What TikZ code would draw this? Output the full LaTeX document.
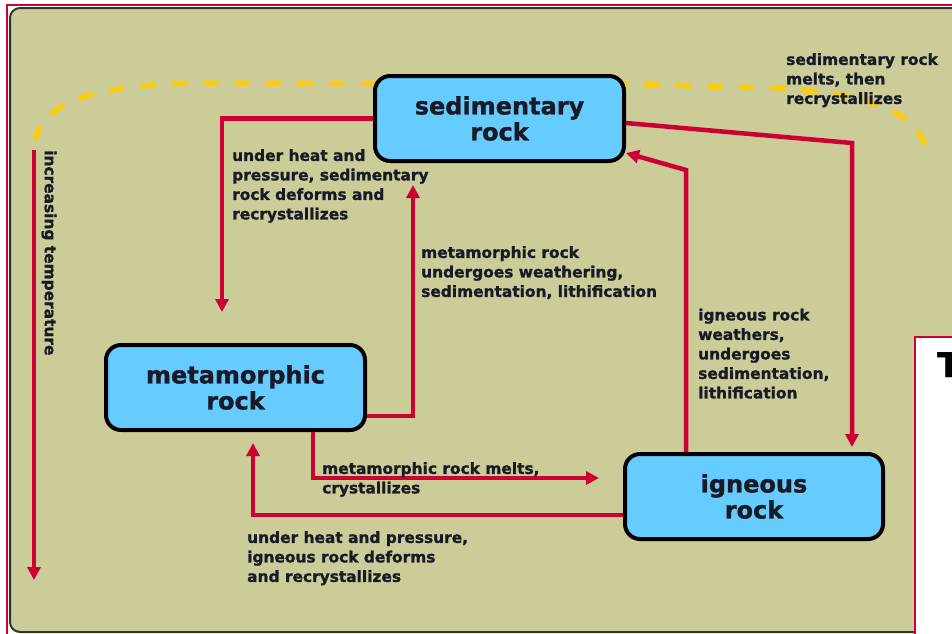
\documentclass[tikz,border=0pt]{standalone}
\usepackage{fontspec}
\setmainfont{DejaVu Sans}[BoldFeatures={FakeBold=1.2}]
\usetikzlibrary{arrows.meta,calc}
\definecolor{khaki}{HTML}{CCCC99}
\definecolor{rockblue}{HTML}{66CCFF}
\definecolor{cred}{HTML}{CC0033}
\definecolor{cyel}{HTML}{FFCC00}
\definecolor{ctext}{HTML}{1A1A26}
\begin{document}
\begin{tikzpicture}[x=1pt,y=-1pt,
  rockbox/.style={draw=black, line width=4pt, fill=rockblue, rounded corners=15pt,
    minimum height=85pt, align=center, font=\fontsize{24}{26}\selectfont\bfseries,
    text=ctext, inner sep=0pt},
  lbl/.style={anchor=north west, align=left, inner sep=0pt,
    font=\fontsize{15.4}{19.5}\selectfont\bfseries, text=ctext},
  flow/.style={draw=cred, line width=4.5pt, -{Triangle[length=13pt,width=13pt]}},
  heatpath/.style={draw=cyel, line width=5pt, dash pattern=on 15pt off 16.5pt},
]
\useasboundingbox (0,0) rectangle (952,633);
\begin{scope}
\clip (0,0) rectangle (952,633);
\fill[white] (0,0) rectangle (952,633);
\draw[cred, line width=2pt] (7,5) rectangle (1000,700);
\draw[fill=khaki, draw=black!80, line width=2pt, rounded corners=10pt] (10,8) rectangle (980,632);
\draw[cred, line width=2pt, fill=white] (915,337) rectangle (1000,700);
\node[anchor=base west, inner sep=0pt, font=\fontsize{34}{34}\selectfont\bfseries, text=black] (tt) at (937,377) {T};

% yellow dashed melting path
\coordinate (y1) at (35,140);
\coordinate (y2) at (927,150);
\draw[heatpath] (y1) .. controls (45,100) and (100,84) .. (200,83) -- (626,84) -- (780,88)
  .. controls (870,95) and (915,110) .. (y2);

% rock boxes
\node[rockbox, minimum width=249pt] (sed) at (499.5,118.5) {sedimentary\\rock};
\node[rockbox, minimum width=259pt] (met) at (235.5,387.5) {metamorphic\\rock};
\node[rockbox, minimum width=258pt] (ign) at (754,496.5) {igneous\\rock};

% connectors
\coordinate (c3) at (852,143);
\coordinate (c4) at (686,170);
\draw[flow] (sed.west) -| ([xshift=-13.5pt,yshift=31pt]met.north);
\draw[flow] ([yshift=-28.5pt]met.east) -| ([xshift=-86.5pt,yshift=-22pt]sed.south);
\draw[flow] ([yshift=-4.5pt]sed.east) -- (c3) -- ([xshift=98pt,yshift=5pt]ign.north);
\draw[flow] ([xshift=-68pt]ign.north) -- (c4) -- ([yshift=-34.5pt]sed.east);
\draw[flow] ([xshift=77.5pt]met.south) |- ([xshift=-24pt,yshift=18.5pt]ign.west);
\draw[flow] ([yshift=-18.5pt]ign.west) -| ([xshift=17.5pt,yshift=-11pt]met.south);

% temperature arrow
\coordinate (t1) at (34,150);
\coordinate (t2) at (34,580);
\draw[flow] (t1) -- (t2);
\node[lbl, anchor=west, rotate=-90] (lt) at (49,150) {increasing temperature};

% labels
\node[lbl] (la) at (232,149) {under heat and\\pressure, sedimentary\\rock deforms and\\recrystallizes};
\node[lbl] (lb) at (421,246) {metamorphic rock\\undergoes weathering,\\sedimentation, lithification};
\node[lbl] (lc) at (786,53) {sedimentary rock\\melts, then\\recrystallizes};
\node[lbl] (ld) at (698,308.5) {igneous rock\\weathers,\\undergoes\\sedimentation,\\lithification};
\node[lbl] (le) at (322,462) {metamorphic rock melts,\\crystallizes};
\node[lbl] (lf) at (247,531) {under heat and pressure,\\igneous rock deforms\\and recrystallizes};
\end{scope}
\end{tikzpicture}
\end{document}
